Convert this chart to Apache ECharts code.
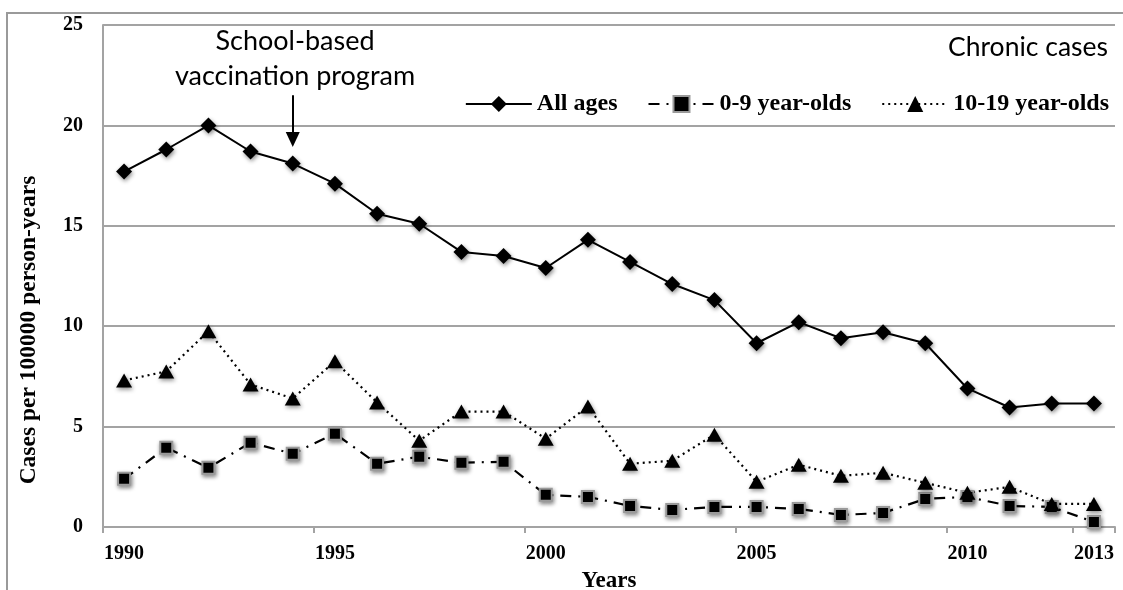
<!DOCTYPE html>
<html>
<head>
<meta charset="utf-8">
<script src="https://cdn.jsdelivr.net/npm/echarts@6/dist/echarts.min.js"></script>
<style>
  html, body { margin: 0; padding: 0; background: #ffffff; }
  #chart { width: 1123px; height: 590px; }
</style>
</head>
<body>
<div id="chart"></div>
<script>
// Chronic cases per 100000 person-years, by age group
const years = ['1990','1991','1992','1993','1994','1995','1996','1997','1998','1999','2000','2001',
               '2002','2003','2004','2005','2006','2007','2008','2009','2010','2011','2012','2013'];
const allAges   = [17.7, 18.8, 20.0, 18.7, 18.1, 17.1, 15.6, 15.1, 13.7, 13.5, 12.9, 14.3,
                   13.2, 12.1, 11.3, 9.15, 10.2, 9.4, 9.7, 9.15, 6.9, 5.95, 6.15, 6.15];
const age0to9   = [2.4, 3.95, 2.95, 4.2, 3.65, 4.65, 3.15, 3.5, 3.2, 3.25, 1.6, 1.5,
                   1.05, 0.85, 1.0, 1.0, 0.9, 0.6, 0.7, 1.4, 1.5, 1.05, 1.0, 0.25];
const age10to19 = [7.3, 7.75, 9.75, 7.1, 6.4, 8.25, 6.2, 4.3, 5.75, 5.75, 4.4, 6.0,
                   3.15, 3.3, 4.6, 2.25, 3.1, 2.55, 2.7, 2.2, 1.7, 2.0, 1.15, 1.15];
const seriesNames = ['All ages', '0-9 year-olds', '10-19 year-olds'];
const yearLabels = ['1990', '1995', '2000', '2005', '2010', '2013'];
const yMin = 0, yMax = 25, yStep = 5;

// Start of the school-based programme, marked with an arrow
const programYear = '1994';
const arrowFrom = 21.5, arrowTo = 19.3;

const serif = "'Times New Roman', 'Liberation Serif', serif";
const sans = "Lato, 'Open Sans', sans-serif";
const gridGray = '#a3a3a3';

const markerShadow = {
  shadowBlur: 4,
  shadowColor: 'rgba(0,0,0,0.45)',
  shadowOffsetX: 1,
  shadowOffsetY: 2
};

const chart = echarts.init(document.getElementById('chart'), null, { renderer: 'canvas' });

chart.setOption({
  backgroundColor: '#ffffff',
  animation: false,
  grid: { left: 103, right: 8, top: 25, bottom: 63, containLabel: false, outerBoundsMode: 'none' },
  legend: {
    data: seriesNames,
    right: 9,
    top: 87,
    itemWidth: 66,
    itemHeight: 20,
    itemGap: 30,
    textStyle: { fontFamily: serif, fontWeight: 'bold', fontSize: 24, color: '#000' }
  },
  xAxis: {
    type: 'category',
    data: years,
    boundaryGap: true,
    name: 'Years',
    nameLocation: 'middle',
    nameGap: 43,
    nameTextStyle: { fontFamily: serif, fontWeight: 'bold', fontSize: 23, color: '#000' },
    axisLine: { lineStyle: { color: gridGray, width: 2 } },
    axisTick: { show: true, length: 6, lineStyle: { color: gridGray, width: 2 } },
    axisLabel: {
      interval: (idx, value) => yearLabels.includes(value),
      margin: 17,
      fontFamily: serif, fontWeight: 'bold', fontSize: 20, color: '#000'
    },
    splitLine: { show: false }
  },
  yAxis: {
    type: 'value',
    min: yMin, max: yMax, interval: yStep,
    name: 'Cases per 100000 person-years',
    nameLocation: 'middle',
    nameGap: 62,
    nameTextStyle: { fontFamily: serif, fontWeight: 'bold', fontSize: 23.5, color: '#000',
                     padding: [0, 108, 0, 0] },
    axisLine: { show: true, lineStyle: { color: gridGray, width: 2 } },
    axisTick: { show: false },
    axisLabel: { margin: 20, fontFamily: serif, fontWeight: 'bold', fontSize: 20, color: '#000' },
    splitLine: { show: true, lineStyle: { color: gridGray, width: 2 } }
  },
  series: [
    {
      name: seriesNames[0],
      type: 'line',
      data: allAges,
      symbol: 'diamond',
      symbolSize: 16,
      lineStyle: { color: '#000', width: 2, type: 'solid' },
      itemStyle: Object.assign({ color: '#000' }, markerShadow),
      z: 4,
      markLine: {
        silent: true,
        symbol: ['none', 'triangle'],
        symbolSize: [14, 15],
        label: { show: false },
        lineStyle: { color: '#000', width: 2, type: 'solid' },
        data: [[
          { coord: [programYear, arrowFrom] },
          { coord: [programYear, arrowTo] }
        ]]
      }
    },
    {
      name: seriesNames[1],
      type: 'line',
      data: age0to9,
      symbol: 'rect',
      symbolSize: 12,
      lineStyle: { color: '#000', width: 2.2, type: [11, 7, 2, 7] },
      itemStyle: Object.assign({ color: '#000', borderColor: '#9a9a9a', borderWidth: 2 }, markerShadow),
      z: 3
    },
    {
      name: seriesNames[2],
      type: 'line',
      data: age10to19,
      symbol: 'triangle',
      symbolSize: [16, 14],
      lineStyle: { color: '#000', width: 2.2, type: [2, 4] },
      itemStyle: Object.assign({ color: '#000' }, markerShadow),
      z: 3
    }
  ],
  graphic: [
    // outer chart frame
    { type: 'polyline', silent: true, shape: { points: [[7, 600], [7, 13], [1130, 13]] },
      style: { stroke: '#9a9a9a', lineWidth: 2, fill: null } },
    { type: 'text', silent: true,
      style: { x: 295, y: 55, text: 'School-based', fontFamily: sans, fontSize: 27, fill: '#000',
               textAlign: 'center', textVerticalAlign: 'bottom' } },
    { type: 'text', silent: true,
      style: { x: 295, y: 90, text: 'vaccination program', fontFamily: sans, fontSize: 27, fill: '#000',
               textAlign: 'center', textVerticalAlign: 'bottom' } },
    { type: 'text', silent: true,
      style: { x: 1108, y: 61, text: 'Chronic cases', fontFamily: sans, fontSize: 26.5, fill: '#000',
               textAlign: 'right', textVerticalAlign: 'bottom' } }
  ]
});
</script>
</body>
</html>
